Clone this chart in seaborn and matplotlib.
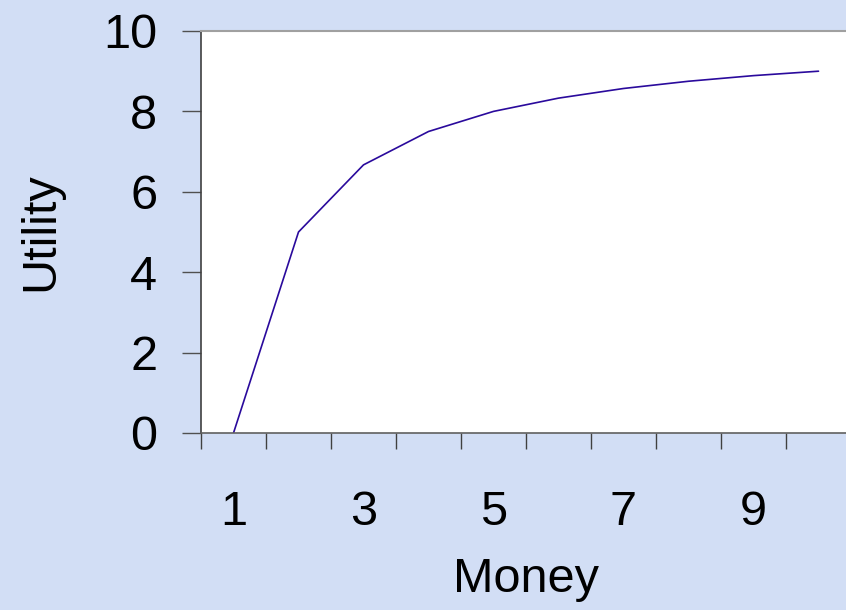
import matplotlib
matplotlib.use("Agg")
import matplotlib.pyplot as plt
import seaborn as sns
import pandas as pd

# data
money = [1, 2, 3, 4, 5, 6, 7, 8, 9, 10]
utility = [0.0, 5.0, 6.67, 7.5, 8.0, 8.33, 8.57, 8.75, 8.89, 9.0]
x_labels = ["1", "3", "5", "7", "9"]
y_ticks = [0, 2, 4, 6, 8, 10]

df = pd.DataFrame({"Money": money, "Utility": utility})

sns.set_theme(style="white")
plt.rcParams["font.family"] = ["Liberation Sans", "DejaVu Sans"]
plt.rcParams["text.color"] = "black"
plt.rcParams["axes.labelcolor"] = "black"
plt.rcParams["xtick.color"] = "black"
plt.rcParams["ytick.color"] = "black"

bg = "#d2def5"
fig = plt.figure(figsize=(8.46, 6.10), dpi=100, facecolor=bg)
ax = fig.add_axes([201 / 846, 1 - 433 / 610, 650 / 846, 402 / 610])
ax.set_facecolor("white")

sns.lineplot(x="Money", y="Utility", data=df, color="#2a0a9c", linewidth=1.2, ax=ax)

ax.set_xlim(0.5, 10.5)
ax.set_ylim(0, 10)

# labels on the odd categories, tick marks between categories
ax.set_xticks([int(v) for v in x_labels])
ax.set_xticklabels(x_labels)
ax.set_xticks([m - 0.5 for m in money] + [money[-1] + 0.5], minor=True)
ax.tick_params(axis="x", which="major", length=0, pad=41, labelsize=35, labelcolor="black")
ax.tick_params(axis="x", which="minor", length=11.5, width=1, color="#404040",
               direction="out", bottom=True)

ax.set_yticks(y_ticks)
ax.tick_params(axis="y", which="major", length=13.5, width=1, color="#505050",
               direction="out", left=True, pad=18, labelsize=35, labelcolor="black")

ax.set_xlabel("Money", fontsize=35, labelpad=16, color="black")
ax.set_ylabel("Utility", fontsize=35, labelpad=29, color="black")

for side in ["top", "bottom", "left"]:
    ax.spines[side].set_visible(True)
ax.spines["top"].set_color("#a0a0a0")
ax.spines["top"].set_linewidth(1.5)
ax.spines["bottom"].set_color("#606060")
ax.spines["bottom"].set_linewidth(1.2)
ax.spines["left"].set_color("#404040")
ax.spines["left"].set_linewidth(1.2)
ax.spines["right"].set_visible(False)
ax.grid(False)

fig.savefig("out.png", dpi=100, facecolor=bg)
